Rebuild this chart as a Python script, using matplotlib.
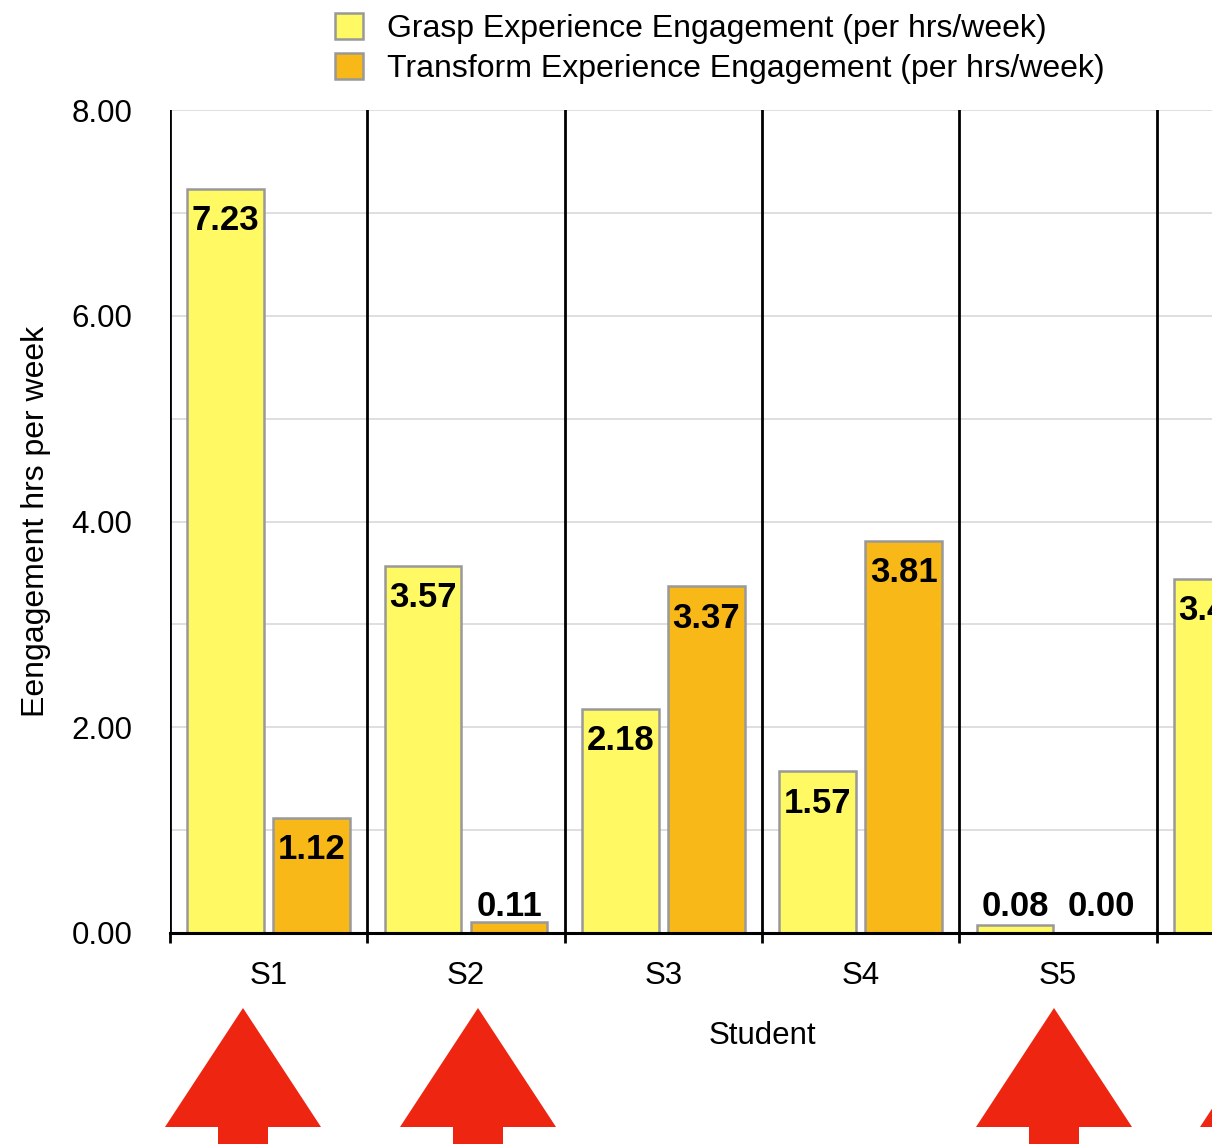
import numpy as np
from matplotlib import pyplot as plt
from matplotlib.patches import Polygon, Patch
from matplotlib.ticker import MultipleLocator

students = ['S1', 'S2', 'S3', 'S4', 'S5', 'S6']
grasp = [7.23, 3.57, 2.18, 1.57, 0.08, 3.44]
transform = [1.12, 0.11, 3.37, 3.81, 0.00, np.nan]  # S6 transform bar is cut off
series_names = ['Grasp Experience Engagement (per hrs/week)',
                'Transform Experience Engagement (per hrs/week)']
highlighted = ['S1', 'S2', 'S5', 'S6']

yellow = '#fff964'
orange = '#f8b817'
edge = '#999999'
arrow_red = '#ee2510'

plt.rcParams['font.family'] = ['Liberation Sans', 'DejaVu Sans']
W, H = 1212, 1144
fig = plt.figure(figsize=(W / 100, H / 100), dpi=100)
# the original chart is wider than the crop, S6 runs off the right side
ax = fig.add_axes([170 / W, 1 - 933 / H, (1354 - 170) / W, (933 - 110) / H])

x = np.arange(len(students))
off, bw = 0.218, 0.39
b1 = ax.bar(x - off, grasp, bw, color=yellow, edgecolor=edge, linewidth=1.8, zorder=2)
b2 = ax.bar(x + off, transform, bw, color=orange, edgecolor=edge, linewidth=1.8, zorder=2)

for bars, vals in ((b1, grasp), (b2, transform)):
    for rect, v in zip(bars, vals):
        if np.isnan(v):
            continue
        cx = rect.get_x() + rect.get_width() / 2
        if v >= 0.5:
            ax.annotate('%.2f' % v, (cx, v), xytext=(0, -11), textcoords='offset points',
                        ha='center', va='top', fontsize=25, fontweight='bold', zorder=4)
        else:
            ax.annotate('%.2f' % v, (cx, max(v, 0.12)), xytext=(0, -2), textcoords='offset points',
                        ha='center', va='bottom', fontsize=25, fontweight='bold', zorder=4)

# category separators
for b in np.arange(len(students) + 1) - 0.5:
    ax.axvline(b, color='black', lw=2.0, zorder=3)

ax.set_xlim(-0.5, len(students) - 0.5)
ax.set_ylim(0, 8)
ax.yaxis.set_major_locator(MultipleLocator(2))
ax.yaxis.set_minor_locator(MultipleLocator(1))
ax.yaxis.set_major_formatter(lambda v, p: '%.2f' % v)
ax.grid(axis='y', which='both', color='#d9d9d9', lw=1.2, zorder=0)
ax.set_axisbelow(True)

ax.set_xticks(x)
ax.set_xticklabels(students)
ax.set_xticks(np.arange(len(students) + 1) - 0.5, minor=True)
ax.tick_params(axis='x', which='major', length=0, pad=20, labelsize=22.5)
ax.tick_params(axis='x', which='minor', length=7, width=2.0, direction='out', color='black')
ax.tick_params(axis='y', which='both', length=0, pad=27, labelsize=22.5)

for s in ('top', 'right', 'left'):
    ax.spines[s].set_visible(False)
ax.spines['bottom'].set_linewidth(2.2)
ax.spines['bottom'].set_zorder(5)

ax.set_xlabel('Student', fontsize=22.5, labelpad=22)
ax.set_ylabel('Eengagement hrs per week', fontsize=23, labelpad=15)

handles = [Patch(facecolor=yellow, edgecolor=edge, linewidth=1.8),
           Patch(facecolor=orange, edgecolor=edge, linewidth=1.8)]
fig.legend(handles, series_names, loc='upper left', bbox_to_anchor=(335 / W, 1 - 13 / H),
           frameon=False, fontsize=23, handlelength=0.87, handleheight=0.87,
           handletextpad=0.75, labelspacing=0.28, borderpad=0, borderaxespad=0)

# red arrows under the students of interest (pixel layout from the screenshot)
arrow_px = {'S1': 243, 'S2': 478, 'S5': 1054, 'S6': 1278}
for name in highlighted:
    cx = arrow_px[name]
    pts = [(cx, 1008), (cx + 78, 1127), (cx + 25, 1127), (cx + 25, 1150),
           (cx - 25, 1150), (cx - 25, 1127), (cx - 78, 1127)]
    pts = [(px / W, 1 - py / H) for px, py in pts]
    fig.add_artist(Polygon(pts, closed=True, facecolor=arrow_red, edgecolor='none'))

fig.savefig('out.png', dpi=100)
